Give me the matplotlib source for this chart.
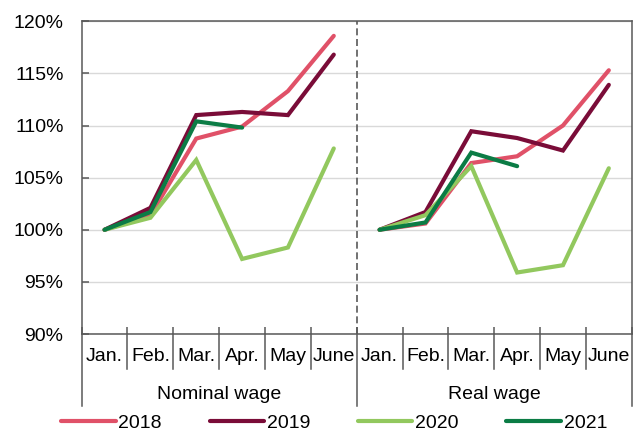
from matplotlib import pyplot as plt
import matplotlib.transforms as mtransforms
import numpy as np

months = ["Jan.", "Feb.", "Mar.", "Apr.", "May", "June"]
groups = ["Nominal wage", "Real wage"]
years = ["2018", "2019", "2020", "2021"]

# values in % (index, January = 100)
nominal_2018 = [100, 101.4, 108.75, 109.9, 113.3, 118.6]
nominal_2019 = [100, 102.1, 111.0, 111.3, 111.0, 116.8]
nominal_2020 = [100, 101.15, 106.7, 97.2, 98.3, 107.8]
nominal_2021 = [100, 101.7, 110.4, 109.8]

real_2018 = [100, 100.6, 106.4, 107.05, 110.0, 115.3]
real_2019 = [100, 101.7, 109.45, 108.8, 107.6, 113.9]
real_2020 = [100, 101.4, 106.1, 95.9, 96.6, 105.9]
real_2021 = [100, 100.7, 107.4, 106.1]

colors = ["#E05168", "#7A0C38", "#92C85E", "#0B7C45"]

plt.rcParams["font.family"] = ["Liberation Sans", "DejaVu Sans"]
plt.rcParams["font.size"] = 14

fig = plt.figure(figsize=(6.33, 4.34), dpi=100)
ax = fig.add_axes([0.129, 0.2304, 0.869, 0.7206])

nominal = [nominal_2018, nominal_2019, nominal_2020, nominal_2021]
real = [real_2018, real_2019, real_2020, real_2021]
n = len(months)
for i, year in enumerate(years):
    x1 = np.arange(len(nominal[i]))
    x2 = n + np.arange(len(real[i]))
    ax.plot(x1, nominal[i], color=colors[i], lw=3, solid_capstyle="round",
            solid_joinstyle="miter", label=year, zorder=3 + (i == 3))
    ax.plot(x2, real[i], color=colors[i], lw=3, solid_capstyle="round",
            solid_joinstyle="miter", zorder=3 + (i == 3))

ax.set_xlim(-0.5, 2 * n - 0.5)
ax.set_ylim(90, 120)
ax.set_yticks(np.arange(90, 121, 5))
ax.set_yticklabels(["{0}%".format(v) for v in range(90, 121, 5)])
ax.grid(True, axis="y", color="#d9d9d9", lw=1)
ax.set_axisbelow(True)

ax.set_xticks(np.arange(2 * n))
ax.set_xticklabels(months * 2)
ax.set_xticks(np.arange(-0.5, 2 * n), minor=True)
ax.tick_params(axis="x", which="major", length=0, pad=10)
ax.tick_params(axis="x", which="minor", direction="in", length=5, width=1.1, color="#595959")
ax.tick_params(axis="y", direction="in", length=5, width=1.1, color="#595959", pad=13)

for s in ax.spines.values():
    s.set_color("#595959")
    s.set_linewidth(1.1)

ax.axvline(n - 0.5, color="#595959", lw=1.2, linestyle=(0, (4.2, 2.2)), zorder=2)

trans = mtransforms.blended_transform_factory(ax.transData, ax.transAxes)
for b in np.arange(-0.5, 2 * n):
    depth = -0.23 if b in (-0.5, n - 0.5, 2 * n - 0.5) else -0.112
    ax.plot([b, b], [0, depth], color="#595959", lw=1.1, transform=trans, clip_on=False)
for g, label in enumerate(groups):
    ax.text(g * n + (n - 1) / 2, -0.192, label, transform=trans, ha="center", va="center")

fig.legend(loc="center", bbox_to_anchor=(0.528, 0.025), ncol=4, frameon=False,
           handlelength=2.8, handletextpad=0.15, columnspacing=2.45,
           borderpad=0, borderaxespad=0)

fig.savefig("out.png", dpi=100)
